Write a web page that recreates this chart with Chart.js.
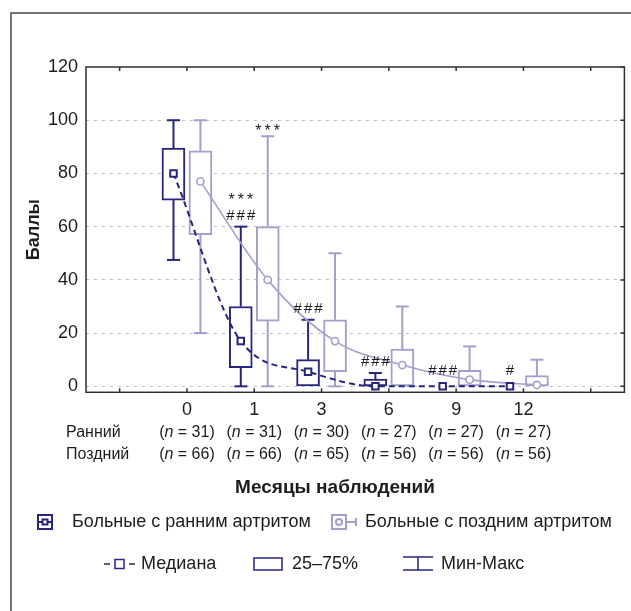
<!DOCTYPE html>
<html><head><meta charset="utf-8">
<script src="https://cdn.jsdelivr.net/npm/chart.js@4.4.1/dist/chart.umd.min.js"></script>
<style>html,body{margin:0;padding:0;background:#fff;}#wrap{width:631px;height:611px;position:relative;}</style>
</head><body><div id="wrap"><canvas id="c" width="631" height="611"></canvas></div>
<script>
// ---- data ----
const months = ['0', '1', '3', '6', '9', '12'];
const earlyN = [31, 31, 30, 27, 27, 27];
const lateN = [66, 66, 65, 56, 56, 56];
const earlyMin = [47.5, 0, 0, 0, 0, 0];
const earlyQ1 = [70, 7, 0, 0, 0, 0];
const earlyMedian = [80, 17, 5.5, 0, 0, 0];
const earlyQ3 = [89.5, 30, 10, 2.75, 0, 0];
const earlyMax = [100, 60, 25, 5, 0, 0];
const lateMin = [20, 0, 0, 0, 0, 0];
const lateQ1 = [57, 24.5, 5.5, 0, 0, 0];
const lateMedian = [77, 40, 17, 8, 2.5, 0.5];
const lateQ3 = [88.5, 60, 25, 14, 6, 4];
const lateMax = [100, 94, 50, 30, 15, 10];
const earlyMarks = ['', '***\n###', '###', '###', '###', '#'];
const lateMarks = ['', '***', '', '', '', ''];
const yTicks = [0, 20, 40, 60, 80, 100, 120];
const yLabel = 'Баллы';
const xLabel = 'Месяцы наблюдений';
const rowLabels = ['Ранний', 'Поздний'];
const legendSeries = ['Больные с ранним артритом', 'Больные с поздним артритом'];
const legendParts = ['Медиана', '25–75%', 'Мин-Макс'];

// ---- style ----
const NAVY = '#26267c';
const LAV = '#a39fcc';
const TXT = '#1c1c1c';
const FONT = '"Liberation Sans", Arial, Helvetica, sans-serif';
const shift = 0.2;          // box offset from the category centre, in category units
const labels = ['', ...months, ''];
const boxData = (q1, q3) => [null, ...months.map((_, i) => q3[i] > q1[i] ? [q1[i], q3[i]] : null), null];

const decor = {
  id: 'decor',
  beforeDraw(chart) {
    const ctx = chart.ctx;
    ctx.save();
    ctx.fillStyle = '#fff';
    ctx.fillRect(0, 0, chart.width, chart.height);
    ctx.strokeStyle = '#4a4a4a';
    ctx.lineWidth = 1.5;
    ctx.beginPath();
    ctx.moveTo(11, chart.height); ctx.lineTo(11, 13); ctx.lineTo(chart.width, 13);
    ctx.stroke();
    ctx.restore();
  },
  beforeDatasetsDraw(chart) {
    const ctx = chart.ctx, y = chart.scales.y, xl = chart.scales.xl;
    ctx.save();
    [[-shift, earlyMin, earlyQ1, earlyQ3, earlyMax, NAVY], [shift, lateMin, lateQ1, lateQ3, lateMax, LAV]].forEach(([off, mn, q1, q3, mx, col]) => {
      ctx.strokeStyle = col; ctx.lineWidth = 2;
      months.forEach((_, i) => {
        const px = xl.getPixelForValue(i + 1 + off);
        const seg = (a, b) => {
          ctx.beginPath(); ctx.moveTo(px, y.getPixelForValue(a)); ctx.lineTo(px, y.getPixelForValue(b)); ctx.stroke();
          const py = y.getPixelForValue(b);
          ctx.beginPath(); ctx.moveTo(px - 6.5, py); ctx.lineTo(px + 6.5, py); ctx.stroke();
        };
        if (mx[i] > q3[i]) seg(q3[i], mx[i]);
        if (mn[i] < q1[i]) seg(q1[i], mn[i]);
      });
    });
    ctx.restore();
  },
  afterDatasetsDraw(chart) {
    const ctx = chart.ctx, y = chart.scales.y, xl = chart.scales.xl, x = chart.scales.x;
    const a = chart.chartArea;
    ctx.save();
    ctx.fillStyle = TXT;
    ctx.textAlign = 'center';
    ctx.textBaseline = 'alphabetic';
    [[-shift, earlyMarks, earlyMax, earlyMedian], [shift, lateMarks, lateMax, lateMedian]].forEach(([off, marks, mx, med]) => {
      months.forEach((_, i) => {
        if (!marks[i]) return;
        const px = xl.getPixelForValue(i + 1 + off);
        let base = Math.min(y.getPixelForValue(mx[i]), y.getPixelForValue(med[i]) - 4);
        const lines = marks[i].split('\n').reverse();
        lines.forEach((ln, k) => {
          const star = ln.includes('*');
          ctx.font = (star ? '16px ' : '15px ') + FONT;
          ctx.letterSpacing = star ? '3px' : '2px';
          const b = k === 0 ? base - (star ? 0 : 7) : base;
          ctx.fillText(ln, px + (star ? 1.5 : 1), b);
          base = b - 15;
        });
      });
    });
    ctx.letterSpacing = '0px';
    ctx.strokeStyle = '#2e2e2e';
    ctx.lineWidth = 1.5;
    ctx.strokeRect(a.left, a.top, a.right - a.left, a.bottom - a.top);
    ctx.beginPath();
    x.ticks.forEach((t, i) => {
      const px = x.getPixelForTick(i);
      ctx.moveTo(px, a.top); ctx.lineTo(px, a.top + 4);
      ctx.moveTo(px, a.bottom); ctx.lineTo(px, a.bottom - 4);
    });
    y.ticks.forEach((t, i) => {
      const py = y.getPixelForTick(i);
      ctx.moveTo(a.right, py); ctx.lineTo(a.right - 4, py);
    });
    ctx.stroke();
    ctx.restore();
  },
  afterDraw(chart) {
    const ctx = chart.ctx, x = chart.scales.x, a = chart.chartArea;
    ctx.save();
    ctx.fillStyle = TXT;
    ctx.textBaseline = 'middle';
    ctx.font = '16px ' + FONT;
    ctx.textAlign = 'left';
    ctx.fillText(rowLabels[0], 66, 433);
    ctx.fillText(rowLabels[1], 66, 455);
    const drawN = (cx, cy, n) => {
      ctx.font = '16px ' + FONT;
      const pa = '(', pc = ' = ' + n + ')';
      const wa = ctx.measureText(pa).width, wc = ctx.measureText(pc).width;
      ctx.font = 'italic 16px ' + FONT;
      const wb = ctx.measureText('n').width;
      let sx = cx - (wa + wb + wc) / 2;
      ctx.textAlign = 'left';
      ctx.font = '16px ' + FONT; ctx.fillText(pa, sx, cy); sx += wa;
      ctx.font = 'italic 16px ' + FONT; ctx.fillText('n', sx, cy); sx += wb;
      ctx.font = '16px ' + FONT; ctx.fillText(pc, sx, cy);
    };
    months.forEach((m, i) => {
      const px = x.getPixelForValue(i + 1);
      drawN(px, 433, earlyN[i]);
      drawN(px, 455, lateN[i]);
    });
    ctx.font = 'bold 19px ' + FONT;
    ctx.textAlign = 'center';
    ctx.fillText(xLabel, 335, 488);
    ctx.save();
    ctx.font = 'bold 18px ' + FONT;
    ctx.translate(34, (a.top + a.bottom) / 2);
    ctx.rotate(-Math.PI / 2);
    ctx.fillText(yLabel, 0, 0);
    ctx.restore();
    // legend row 1
    const r1 = 522;
    ctx.lineWidth = 2;
    ctx.strokeStyle = NAVY;
    ctx.fillStyle = '#fff';
    ctx.fillRect(38, r1 - 7, 14, 14);
    ctx.strokeRect(38, r1 - 7, 14, 14);
    ctx.beginPath(); ctx.moveTo(38, r1); ctx.lineTo(52, r1); ctx.stroke();
    ctx.fillRect(42.5, r1 - 2.5, 5, 5);
    ctx.strokeRect(42.5, r1 - 2.5, 5, 5);
    ctx.strokeStyle = LAV;
    ctx.beginPath(); ctx.moveTo(331, r1); ctx.lineTo(356, r1); ctx.stroke();
    ctx.beginPath(); ctx.moveTo(356, r1 - 4); ctx.lineTo(356, r1 + 4); ctx.stroke();
    ctx.fillRect(332, r1 - 7, 14, 14);
    ctx.strokeRect(332, r1 - 7, 14, 14);
    ctx.beginPath(); ctx.arc(339, r1, 3, 0, Math.PI * 2); ctx.fill(); ctx.stroke();
    ctx.fillStyle = TXT;
    ctx.font = '18px ' + FONT;
    ctx.textAlign = 'left';
    ctx.fillText(legendSeries[0], 72, r1);
    ctx.fillText(legendSeries[1], 365, r1);
    // legend row 2
    const r2 = 564;
    ctx.strokeStyle = NAVY;
    ctx.lineWidth = 1.5;
    ctx.beginPath();
    ctx.moveTo(104, r2); ctx.lineTo(110, r2);
    ctx.moveTo(129, r2); ctx.lineTo(135, r2);
    ctx.stroke();
    ctx.strokeRect(115, r2 - 4.5, 9, 9);
    ctx.strokeRect(254, r2 - 6, 28, 12);
    ctx.beginPath();
    ctx.moveTo(403, r2 - 7); ctx.lineTo(433, r2 - 7);
    ctx.moveTo(418, r2 - 7); ctx.lineTo(418, r2 + 6);
    ctx.moveTo(403, r2 + 6); ctx.lineTo(433, r2 + 6);
    ctx.stroke();
    ctx.fillText(legendParts[0], 141, r2);
    ctx.fillText(legendParts[1], 292, r2);
    ctx.fillText(legendParts[2], 441, r2);
    ctx.restore();
  }
};

new Chart(document.getElementById('c'), {
  type: 'bar',
  data: {
    labels: labels,
    datasets: [
      { type: 'line', xAxisID: 'xl', order: 0,
        data: earlyMedian.map((v, i) => ({ x: i + 1 - shift, y: v })),
        borderColor: NAVY, borderWidth: 2, borderDash: [6, 4], cubicInterpolationMode: 'monotone',
        pointStyle: 'rect', pointRadius: 4.6, pointBorderWidth: 2, pointBackgroundColor: '#fff', pointBorderColor: NAVY },
      { type: 'line', xAxisID: 'xl', order: 0,
        data: lateMedian.map((v, i) => ({ x: i + 1 + shift, y: v })),
        borderColor: LAV, borderWidth: 1.6, cubicInterpolationMode: 'monotone',
        pointStyle: 'circle', pointRadius: 3.6, pointBorderWidth: 1.6, pointBackgroundColor: '#fff', pointBorderColor: LAV },
      { type: 'bar', xAxisID: 'x', order: 1, data: boxData(earlyQ1, earlyQ3),
        backgroundColor: '#fff', borderColor: NAVY, borderWidth: 2, borderSkipped: false,
        barThickness: 27, maxBarThickness: 23 },
      { type: 'bar', xAxisID: 'x', order: 1, data: boxData(lateQ1, lateQ3),
        backgroundColor: '#fff', borderColor: LAV, borderWidth: 2, borderSkipped: false,
        barThickness: 27, maxBarThickness: 23 }
    ]
  },
  options: {
    responsive: false, animation: false, devicePixelRatio: 1,
    layout: { padding: { top: 67, right: 5.3, left: 0, bottom: 0 } },
    plugins: { legend: { display: false }, tooltip: { enabled: false } },
    scales: {
      x: { type: 'category', offset: true,
        grid: { display: false, drawTicks: false }, border: { display: false },
        ticks: { autoSkip: false, maxRotation: 0, padding: 7, color: TXT, font: { family: FONT, size: 18 } },
        afterFit: s => { s.height = 611 - 392.3; } },
      xl: { type: 'linear', display: false, offset: false, bounds: 'data', grace: 0,
        min: -0.5, max: labels.length - 0.5,
        afterDataLimits: s => { s.min = -0.5; s.max = labels.length - 0.5; } },
      y: { min: -2.25, max: 120,
        afterBuildTicks: s => { s.ticks = yTicks.map(v => ({ value: v })); },
        ticks: { includeBounds: false, padding: 8, color: TXT, font: { family: FONT, size: 18 } },
        grid: { drawTicks: false, color: c => c.tick && c.tick.value === 120 ? 'rgba(0,0,0,0)' : '#bdbdbd', lineWidth: 1 },
        border: { display: false, dash: [3, 5] },
        afterFit: s => { s.width = 86; } }
    }
  },
  plugins: [decor]
});
</script></body></html>
